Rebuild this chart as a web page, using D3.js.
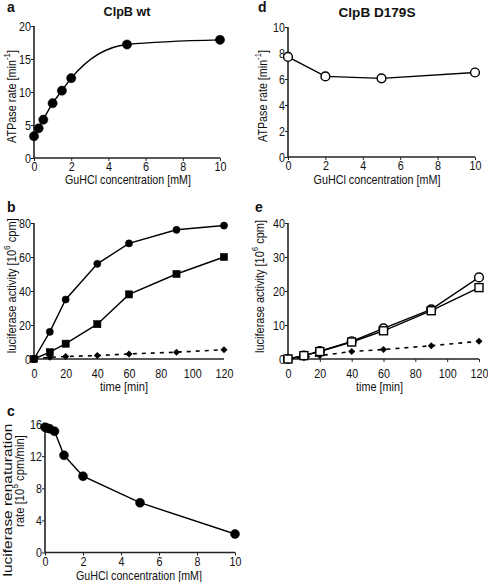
<!DOCTYPE html>
<html><head><meta charset="utf-8">
<script src="https://cdn.jsdelivr.net/npm/d3@7"></script>
<style>body{margin:0;background:#fff}svg{display:block;font-family:"Liberation Sans",Arial,sans-serif}</style>
</head><body><svg id="c" width="488" height="582"></svg>
<script>
// Panel a: ClpB wt ATPase
const aConc = [0, 0.25, 0.5, 1, 1.5, 2, 5, 10];
const aRate = [3.3, 4.5, 5.8, 8.3, 10.2, 12.1, 17.2, 17.9];
// Panel d: ClpB D179S ATPase
const dConc = [0, 2, 5, 10];
const dRate = [7.7, 6.2, 6.05, 6.5];
// Panel b: luciferase activity, wt
const timeMin = [0, 10, 20, 40, 60, 90, 120];
const bCircle = [0, 16, 35, 56, 68, 76, 78.5];
const bSquare = [0, 4, 9, 20.5, 38, 50, 60];
const bDiamond = [0, 1, 1.5, 2, 3, 4, 5.5];
// Panel e: luciferase activity, D179S
const eCircle = [0, 1, 2.3, 5.2, 9, 14.6, 24];
const eSquare = [0, 1, 2.2, 5, 8.3, 14.2, 21];
const eDiamond = [0, 0.5, 1, 2.2, 2.8, 3.9, 5.2];
// Panel c: renaturation rate
const cConc = [0, 0.1, 0.25, 0.5, 1, 2, 5, 10];
const cRate = [15.6, 15.5, 15.4, 15.1, 12.1, 9.5, 6.2, 2.3];
// tick labels
const concTicks = [0, 2, 4, 6, 8, 10];
const aYTicks = [0, 5, 10, 15, 20];
const dYTicks = [0, 2, 4, 6, 8, 10];
const timeTicks = [0, 20, 40, 60, 80, 100, 120];
const bYTicks = [0, 20, 40, 60, 80];
const eYTicks = [0, 10, 20, 30, 40];
const cYTicks = [0, 4, 8, 12, 16];

const svg = d3.select("#c");
const axisCol = "#222";
const SX = 0.86;

function panel(o) {
  const g = svg.append("g");
  const x = d3.scaleLinear().domain(o.xd).range(o.xr);
  const y = d3.scaleLinear().domain(o.yd).range(o.yr);
  const xa = g.append("g").attr("transform", `translate(0,${o.yr[0]})`)
    .call(d3.axisBottom(x).tickValues(o.xt).tickSize(o.xTickSize).tickPadding(o.xPad));
  const ya = g.append("g").attr("transform", `translate(${o.xr[0]},0)`)
    .call(d3.axisLeft(y).tickValues(o.yt).tickSize(3).tickPadding(0.5));
  [xa, ya].forEach(a => {
    a.select(".domain").attr("stroke", axisCol).attr("stroke-width", 1.6);
    a.selectAll(".tick line").attr("stroke", axisCol).attr("stroke-width", 1);
    a.selectAll("text").attr("font-size", 12.5).attr("fill", "#111")
      .attr("font-family", "Liberation Sans, Arial, sans-serif")
      .attr("transform", `scale(${SX},1)`);
  });
  xa.select(".domain").attr("d", `M${o.xr[0]},0H${o.xr[1]}`);
  ya.select(".domain").attr("d", `M0,${o.yr[0]}V${o.yr[1]}`);
  return {g, x, y};
}

function series(p, xs, ys, opt) {
  const pts = xs.map((v, i) => [p.x(v), p.y(ys[i])]);
  p.g.append("path").attr("d", d3.line().curve(opt.curve || d3.curveLinear)(pts))
    .attr("fill", "none").attr("stroke", "#000").attr("stroke-width", opt.dash ? 1.6 : 1.4)
    .attr("stroke-dasharray", opt.dash ? "4,5" : null);
  const fill = opt.open ? "#fff" : "#000";
  pts.forEach(([px, py]) => {
    if (opt.shape === "circle") {
      p.g.append("circle").attr("cx", px).attr("cy", py).attr("r", opt.r)
        .attr("fill", fill).attr("stroke", "#000").attr("stroke-width", opt.open ? 1.4 : 0.5);
    } else if (opt.shape === "square") {
      p.g.append("rect").attr("x", px - opt.r).attr("y", py - opt.r).attr("width", 2 * opt.r).attr("height", 2 * opt.r)
        .attr("fill", fill).attr("stroke", "#000").attr("stroke-width", opt.open ? 1.4 : 0.5);
    } else {
      const s = opt.r;
      p.g.append("path").attr("d", `M${px},${py - s}L${px + s},${py}L${px},${py + s}L${px - s},${py}Z`).attr("fill", "#000");
    }
  });
}

// parts: array of [string, isSuperscript]
function label(cx, cy, parts, o = {}) {
  const el = svg.append("text").attr("x", 0).attr("y", 0)
    .attr("text-anchor", o.anchor || "middle")
    .attr("font-size", o.size || 12.5).attr("font-weight", o.bold ? "bold" : null).attr("fill", "#111");
  let raised = false;
  parts.forEach(([t, sup]) => {
    const ts = el.append("tspan").text(t);
    if (sup && !raised) { ts.attr("dy", -6).attr("font-size", 9); raised = true; }
    else if (!sup && raised) { ts.attr("dy", 6); raised = false; }
  });
  let sx = 1;
  if (o.w) { const len = el.node().getComputedTextLength(); sx = o.w / len; }
  el.attr("transform", `translate(${cx},${cy})${o.rot ? " rotate(-90)" : ""} scale(${sx},1)`);
  return el;
}

// Panel a
const pa = panel({xd: [0, 10], xr: [34, 220], yd: [0, 20], yr: [158, 26], xt: concTicks, yt: aYTicks, xTickSize: 3, xPad: 1});
series(pa, aConc, aRate, {shape: "circle", r: 4.6, curve: d3.curveMonotoneX});
label(7, 11.5, [["a"]], {bold: true, size: 14, anchor: "start"});
label(127, 15.5, [["ClpB wt"]], {bold: true, size: 13, w: 47});
label(128, 183.5, [["GuHCl concentration [mM]"]], {w: 126});
label(15.5, 96.5, [["ATPase rate [min"], ["-1", true], ["]"]], {rot: true, w: 93});

// Panel d
const pd = panel({xd: [0, 10], xr: [288, 475], yd: [0, 10], yr: [157, 27], xt: concTicks, yt: dYTicks, xTickSize: 3, xPad: 1.5});
series(pd, dConc, dRate, {shape: "circle", r: 4.4, open: true});
label(258, 11.5, [["d"]], {bold: true, size: 14, anchor: "start"});
label(377, 16.5, [["ClpB D179S"]], {bold: true, size: 13, w: 77});
label(377, 183.5, [["GuHCl concentration [mM]"]], {w: 127});
label(267, 96, [["ATPase rate [min"], ["-1", true], ["]"]], {rot: true, w: 92});

// Panel b
const pb = panel({xd: [0, 120], xr: [34, 224], yd: [0, 80], yr: [359, 223], xt: timeTicks, yt: bYTicks, xTickSize: 0, xPad: 10});
series(pb, timeMin, bDiamond, {shape: "diamond", r: 3.5, dash: true});
series(pb, timeMin, bSquare, {shape: "square", r: 3.6});
series(pb, timeMin, bCircle, {shape: "circle", r: 3.6});
label(7, 212, [["b"]], {bold: true, size: 14, anchor: "start"});
label(124, 391, [["time [min]"]], {w: 48});
label(15.5, 285.7, [["luciferase activity [10"], ["6", true], [" cpm]"]], {rot: true, w: 135});

// Panel e
const pe = panel({xd: [0, 120], xr: [288, 479], yd: [0, 40], yr: [359, 223], xt: timeTicks, yt: eYTicks, xTickSize: 3, xPad: 7});
series(pe, timeMin, eDiamond, {shape: "diamond", r: 3.5, dash: true});
series(pe, timeMin, eCircle, {shape: "circle", r: 4.4, open: true});
series(pe, timeMin, eSquare, {shape: "square", r: 4, open: true});
label(255, 212, [["e"]], {bold: true, size: 14, anchor: "start"});
label(379.5, 391, [["time [min]"]], {w: 47});
label(263.5, 286.5, [["luciferase activity [10"], ["6", true], [" cpm]"]], {rot: true, w: 133});

// Panel c
const pc = panel({xd: [0, 10], xr: [45, 235], yd: [0, 16], yr: [552.5, 424], xt: concTicks, yt: cYTicks, xTickSize: 3, xPad: 2});
series(pc, cConc, cRate, {shape: "circle", r: 4.5});
label(7, 416, [["c"]], {bold: true, size: 14, anchor: "start"});
label(139, 579.5, [["GuHCl concentration [mM]"]], {w: 126});
label(11.5, 500, [["luciferase renaturation"]], {rot: true, size: 13, w: 153});
label(24, 481, [["rate [10"], ["5", true], [" cpm/min]"]], {rot: true, size: 12.5, w: 92});
</script></body></html>
